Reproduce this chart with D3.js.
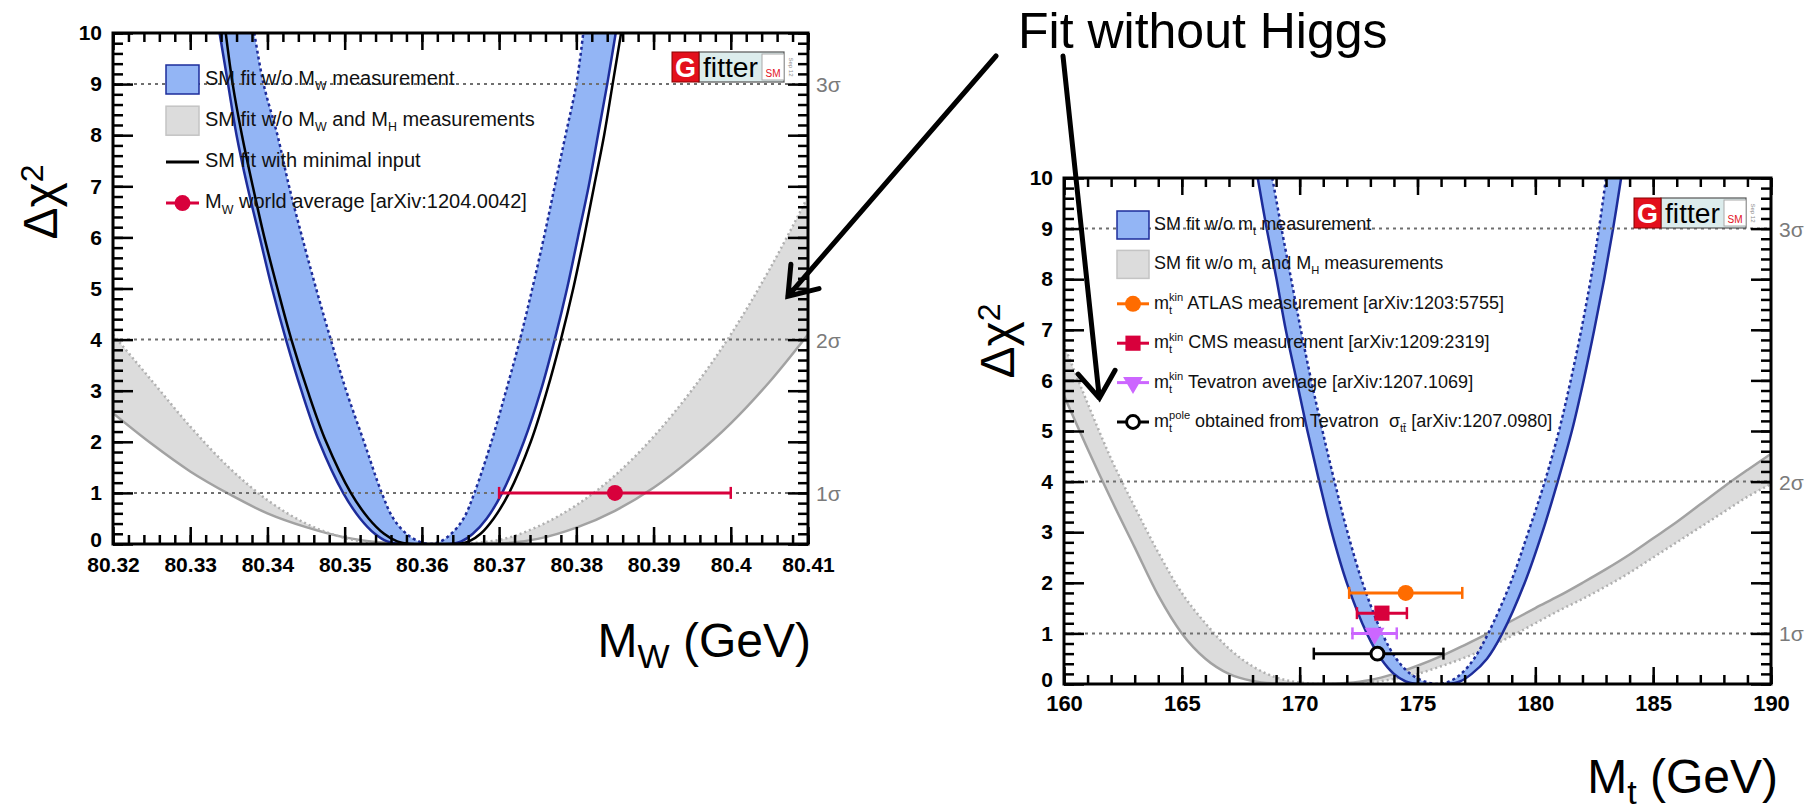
<!DOCTYPE html>
<html>
<head>
<meta charset="utf-8">
<title>Fit without Higgs</title>
<script src="https://cdn.jsdelivr.net/npm/d3@7.9.0/dist/d3.min.js"></script>
<style>
  html, body { margin: 0; padding: 0; background: #fff; }
  svg { display: block; font-family: "Liberation Sans", Arial, Helvetica, sans-serif; }
  text { white-space: pre; }
</style>
</head>
<body>
<svg id="chart" width="1808" height="810"></svg>
<script>
// ---------- values ----------
const dchi2Ticks = [0, 1, 2, 3, 4, 5, 6, 7, 8, 9, 10];
const sigmaLevels = [1, 4, 9];
const sigmaLabels = ["1σ", "2σ", "3σ"];

// left panel: M_W scan, points are [M_W (GeV), delta chi2]
const mwTicks = [80.32, 80.33, 80.34, 80.35, 80.36, 80.37, 80.38, 80.39, 80.40, 80.41];
const mwTickLabels = ["80.32", "80.33", "80.34", "80.35", "80.36", "80.37", "80.38", "80.39", "80.4", "80.41"];

const mwBlueOuter = [[80.3338,10],[80.3349,9],[80.3360,8],[80.3374,7],[80.3390,6],[80.3406,5],[80.3424,4],[80.3444,3],[80.3467,2],[80.3498,1],[80.3520,0.5],[80.3539,0.2],[80.3555,0.05],[80.3572,0],
  [80.3636,0],[80.3651,0.05],[80.3666,0.2],[80.3684,0.5],[80.3704,1],[80.3732,2],[80.3754,3],[80.3772,4],[80.3788,5],[80.3802,6],[80.3816,7],[80.3828,8],[80.3840,9],[80.3851,10]];
const mwBlueInner = [[80.3383,10],[80.3395,9],[80.3413,8],[80.3428,7],[80.3445,6],[80.3463,5],[80.3482,4],[80.3502,3],[80.3525,2],[80.3548,1],[80.3563,0.5],[80.3580,0.2],[80.3596,0.05],[80.3610,0],
  [80.3624,0.05],[80.3638,0.2],[80.3654,0.5],[80.3668,1],[80.3690,2],[80.3709,3],[80.3727,4],[80.3743,5],[80.3758,6],[80.3772,7],[80.3786,8],[80.3800,9],[80.3809,10]];
const mwMinimal = [[80.3346,10],[80.3355,9],[80.3367,8],[80.3381,7],[80.3396,6],[80.3413,5],[80.3431,4],[80.3452,3],[80.3476,2],[80.3508,1],[80.3531,0.5],[80.3551,0.2],[80.3568,0.05],[80.3585,0],
  [80.3646,0],[80.3661,0.05],[80.3676,0.2],[80.3693,0.5],[80.3713,1],[80.3741,2],[80.3762,3],[80.3780,4],[80.3796,5],[80.3810,6],[80.3823,7],[80.3836,8],[80.3847,9],[80.3858,10]];

const mwGrid = [80.320,80.325,80.330,80.335,80.340,80.345,80.350,80.355,80.360,80.365,80.370,80.375,80.380,80.385,80.390,80.395,80.400,80.405,80.410];
const mwGraySolid  = [2.56,1.96,1.42,0.98,0.60,0.33,0.13,0.03,0,0,0.01,0.10,0.32,0.65,1.10,1.68,2.36,3.17,4.10];
const mwGrayDotted = [4.10,3.20,2.30,1.50,0.86,0.40,0.12,0.01,0,0.01,0.08,0.34,0.76,1.34,2.10,3.02,4.10,5.37,6.80];

const mwAvg = 80.385, mwAvgErr = 0.015, mwAvgY = 1;

// right panel: m_t scan, points are [m_t (GeV), delta chi2]
const mtTicks = [160, 165, 170, 175, 180, 185, 190];

const mtBlueOuter = [[168.22,10],[168.6,9],[169.02,8],[169.41,7],[169.87,6],[170.33,5],[170.83,4],[171.36,3],[172.0,2],[172.85,1],[173.45,0.5],[174.0,0.2],[174.5,0.05],[175.0,0],
  [176.3,0],[176.8,0.05],[177.3,0.2],[177.95,0.5],[178.6,1],[179.55,2],[180.3,3],[180.95,4],[181.55,5],[182.05,6],[182.5,7],[182.92,8],[183.3,9],[183.64,10]];
const mtBlueInner = [[168.84,10],[169.23,9],[169.64,8],[170.05,7],[170.49,6],[170.97,5],[171.48,4],[172.03,3],[172.67,2],[173.5,1],[174.1,0.5],[174.7,0.2],[175.3,0.05],[175.85,0],
  [176.35,0.05],[176.85,0.2],[177.4,0.5],[178.0,1],[178.95,2],[179.7,3],[180.4,4],[181.0,5],[181.5,6],[181.95,7],[182.35,8],[182.7,9],[183.0,10]];

const mtGrid = [160,161,162,163,164,165,166,167,168,169,170,171,172,173,174,175,176,177,178,179,180,181,182,183,184,185,186,187,188,189,190];
const mtGraySolid  = [5.7,4.65,3.65,2.7,1.75,1.0,0.5,0.2,0.06,0.01,0,0,0.02,0.08,0.2,0.36,0.55,0.77,1.0,1.25,1.5,1.74,2.0,2.27,2.56,2.88,3.2,3.55,3.9,4.23,4.55];
const mtGrayDotted = [6.7,5.55,4.45,3.5,2.6,1.8,1.2,0.7,0.35,0.13,0.03,0,0,0.03,0.1,0.2,0.35,0.52,0.72,0.95,1.2,1.45,1.68,1.93,2.2,2.5,2.8,3.1,3.4,3.7,3.95];

const mtNames   = ["ATLAS", "CMS", "Tevatron", "pole"];
const mtCentral = [174.5, 173.49, 173.18, 173.3];
const mtLow     = [172.1, 172.43, 172.24, 170.6];
const mtHigh    = [176.9, 174.55, 174.12, 176.1];
const mtY       = [1.8, 1.4, 1.0, 0.6];

// ---------- colours ----------
const blueFill = "#93b5f5", blueLine = "#1d2c9a";
const grayFill = "#dcdcdc", grayLine = "#a2a2a2";
const markColor = { ATLAS: "#ff6c00", CMS: "#d8003c", Tevatron: "#cc66ff", pole: "#000" };

const svg = d3.select("#chart");
const defs = svg.append("defs");

// frame boxes of the two panels
const leftBox = { x0: 113, x1: 808, y0: 33, y1: 544 };
const rightBox = { x0: 1064, x1: 1771, y0: 178, y1: 684 };

const xW = d3.scaleLinear().domain([80.32, 80.41]).range([leftBox.x0, leftBox.x1]);
const yW = d3.scaleLinear().domain([0, 10]).range([leftBox.y1, leftBox.y0]);
const xT = d3.scaleLinear().domain([160, 190]).range([rightBox.x0, rightBox.x1]);
const yT = d3.scaleLinear().domain([0, 10]).range([rightBox.y1, rightBox.y0]);

function clipFor(id, box) {
  defs.append("clipPath").attr("id", id).append("rect")
    .attr("x", box.x0).attr("y", box.y0)
    .attr("width", box.x1 - box.x0).attr("height", box.y1 - box.y0);
  return svg.append("g").attr("clip-path", `url(#${id})`);
}

function curveLine(x, y) {
  return d3.line().x(d => x(d[0])).y(d => y(d[1])).curve(d3.curveCatmullRom.alpha(0.5));
}

// U shaped band between an outer and an inner curve
function drawBand(g, x, y, outer, inner) {
  const line = curveLine(x, y);
  const back = line(inner.slice().reverse()).replace(/^M/, "L");
  g.append("path").attr("d", line(outer) + back + "Z").attr("fill", blueFill);
  g.append("path").attr("d", line(outer)).attr("fill", "none")
    .attr("stroke", blueLine).attr("stroke-width", 2.5);
  g.append("path").attr("d", line(inner)).attr("fill", "none")
    .attr("stroke", blueLine).attr("stroke-width", 2.5).attr("stroke-dasharray", "3,3");
}

function drawGrayBand(g, x, y, grid, solid, dotted) {
  const pts = grid.map((v, i) => ({ x: v, lo: solid[i], hi: dotted[i] }));
  g.append("path")
    .attr("d", d3.area().x(d => x(d.x)).y0(d => y(d.lo)).y1(d => y(d.hi)).curve(d3.curveMonotoneX)(pts))
    .attr("fill", grayFill);
  g.append("path")
    .attr("d", d3.line().x(d => x(d.x)).y(d => y(d.lo)).curve(d3.curveMonotoneX)(pts))
    .attr("fill", "none").attr("stroke", grayLine).attr("stroke-width", 2.5);
  g.append("path")
    .attr("d", d3.line().x(d => x(d.x)).y(d => y(d.hi)).curve(d3.curveMonotoneX)(pts))
    .attr("fill", "none").attr("stroke", "#b0b0b0").attr("stroke-width", 2.5).attr("stroke-dasharray", "2,3");
}

function drawSigmaLines(g, x, y, box) {
  sigmaLevels.forEach((lv, i) => {
    g.append("line")
      .attr("x1", box.x0).attr("x2", box.x1).attr("y1", y(lv)).attr("y2", y(lv))
      .attr("stroke", "#6f6f6f").attr("stroke-width", 2).attr("stroke-dasharray", "3,4");
    svg.append("text")
      .attr("x", box.x1 + 8).attr("y", y(lv) + 8)
      .attr("font-size", 21).attr("fill", "#7a7a7a")
      .text(sigmaLabels[i]);
  });
}

function errorPoint(g, cx, cy, lo, hi, color, shape, size) {
  const cap = 6;
  g.append("line").attr("x1", lo).attr("x2", hi).attr("y1", cy).attr("y2", cy)
    .attr("stroke", color).attr("stroke-width", 3);
  [lo, hi].forEach(v => g.append("line").attr("x1", v).attr("x2", v)
    .attr("y1", cy - cap).attr("y2", cy + cap).attr("stroke", color).attr("stroke-width", 2.5));
  const sym = { circle: d3.symbolCircle, square: d3.symbolSquare, tri: d3.symbolTriangle }[shape === "open" ? "circle" : shape];
  const p = g.append("path").attr("d", d3.symbol(sym, size)())
    .attr("transform", `translate(${cx},${cy})` + (shape === "tri" ? " rotate(180)" : ""));
  if (shape === "open") p.attr("fill", "#fff").attr("stroke", color).attr("stroke-width", 3);
  else p.attr("fill", color);
}

function drawAxes(x, y, box, major, minor, labels, fontX) {
  const g = svg.append("g").attr("font-weight", "bold");
  const style = s => s.call(a => a.select(".domain").remove())
    .call(a => a.selectAll("line").attr("stroke", "#000").attr("stroke-width", 2.5))
    .call(a => a.selectAll("text").attr("fill", "#000").attr("font-family", null));

  g.append("g").attr("transform", `translate(0,${box.y1})`)
    .call(d3.axisBottom(x).tickValues(major).tickSize(-17).tickPadding(box === leftBox ? 13 : 11)
      .tickFormat((d, i) => labels[i]))
    .call(style).selectAll("text").attr("font-size", fontX);
  g.append("g").attr("transform", `translate(0,${box.y1})`)
    .call(d3.axisBottom(x).tickValues(minor).tickSize(-9).tickFormat("")).call(style);
  g.append("g").attr("transform", `translate(0,${box.y0})`)
    .call(d3.axisTop(x).tickValues(major).tickSize(-17).tickFormat("")).call(style);
  g.append("g").attr("transform", `translate(0,${box.y0})`)
    .call(d3.axisTop(x).tickValues(minor).tickSize(-9).tickFormat("")).call(style);

  const yMinor = d3.range(0, 51).map(i => i * 0.2);
  const yLab = g.append("g").attr("transform", `translate(${box.x0},0)`)
    .call(d3.axisLeft(y).tickValues(dchi2Ticks).tickSize(-20).tickPadding(11).tickFormat(d3.format("d")))
    .call(style);
  yLab.selectAll("text").attr("font-size", 21);
  // the "0" sits a little higher, clear of the x labels
  yLab.selectAll(".tick text").filter(d => d === 0).attr("y", -4);
  g.append("g").attr("transform", `translate(${box.x0},0)`)
    .call(d3.axisLeft(y).tickValues(yMinor).tickSize(-10).tickFormat("")).call(style);
  g.append("g").attr("transform", `translate(${box.x1},0)`)
    .call(d3.axisRight(y).tickValues(dchi2Ticks).tickSize(-20).tickFormat("")).call(style);
  g.append("g").attr("transform", `translate(${box.x1},0)`)
    .call(d3.axisRight(y).tickValues(yMinor).tickSize(-10).tickFormat("")).call(style);

  svg.append("rect").attr("x", box.x0).attr("y", box.y0)
    .attr("width", box.x1 - box.x0).attr("height", box.y1 - box.y0)
    .attr("fill", "none").attr("stroke", "#000").attr("stroke-width", 3);
}

// text with stacked sub/superscripts: parts = [{t, sub, sup}]
function richText(g, x, y, parts, size) {
  let cx = x;
  parts.forEach(p => {
    const base = g.append("text").attr("x", cx).attr("y", y).attr("font-size", size).text(p.t);
    cx += base.node().getComputedTextLength();
    let w = 0;
    if (p.sup) {
      const s = g.append("text").attr("x", cx).attr("y", y - size * 0.42).attr("font-size", size * 0.62).text(p.sup);
      w = Math.max(w, s.node().getComputedTextLength());
    }
    if (p.sub) {
      const s = g.append("text").attr("x", cx).attr("y", y + size * 0.28).attr("font-size", size * 0.62).text(p.sub);
      w = Math.max(w, s.node().getComputedTextLength());
    }
    cx += w;
  });
}

function drawLogo(right, top) {
  const h = 30, wG = 27, wF = 63, wS = 22;
  const logo = svg.append("g").attr("transform", `translate(${right - (wG + wF + wS + 9)},${top})`);
  logo.append("rect").attr("x", wG).attr("width", wF + wS).attr("height", h)
    .attr("fill", "#dcecec").attr("stroke", "#555").attr("stroke-width", 1.2);
  logo.append("rect").attr("x", wG + wF).attr("y", 2).attr("width", wS).attr("height", h - 4)
    .attr("fill", "#fff").attr("stroke", "#aaa").attr("stroke-width", 1);
  logo.append("rect").attr("width", wG).attr("height", h)
    .attr("fill", "#e3101c").attr("stroke", "#800").attr("stroke-width", 1);
  logo.append("text").attr("x", wG / 2).attr("y", h - 5).attr("text-anchor", "middle")
    .attr("font-size", 27).attr("font-weight", "bold").attr("fill", "#fff").text("G");
  logo.append("text").attr("x", wG + 4).attr("y", h - 5).attr("font-size", 27)
    .attr("textLength", wF - 8).attr("lengthAdjust", "spacingAndGlyphs").text("fitter");
  logo.append("text").attr("x", wG + wF + wS / 2).attr("y", h - 5).attr("text-anchor", "middle")
    .attr("font-size", 10).attr("fill", "#e3101c").text("SM");
  logo.append("text").attr("transform", `translate(${wG + wF + wS + 5},${h / 2}) rotate(90)`)
    .attr("text-anchor", "middle").attr("font-size", 6).attr("fill", "#888").text("Sep 12");
}

function yTitle(x, y) {
  const t = svg.append("text").attr("transform", `translate(${x},${y}) rotate(-90)`)
    .attr("text-anchor", "middle").attr("font-size", 48);
  t.append("tspan").text("Δχ");
  t.append("tspan").attr("dy", "-0.45em").attr("font-size", 32).text("2");
}

function xTitle(x, y, sub) {
  const t = svg.append("text").attr("x", x).attr("y", y).attr("text-anchor", "end").attr("font-size", 48);
  t.append("tspan").text("M");
  t.append("tspan").attr("dy", 11).attr("font-size", 34).text(sub);
  t.append("tspan").attr("dy", -11).text(" (GeV)");
}

// ---------- left panel: M_W ----------
const gl = clipFor("clipL", leftBox);
drawGrayBand(gl, xW, yW, mwGrid, mwGraySolid, mwGrayDotted);
drawBand(gl, xW, yW, mwBlueOuter, mwBlueInner);
drawSigmaLines(gl, xW, yW, leftBox);
gl.append("path").attr("d", curveLine(xW, yW)(mwMinimal))
  .attr("fill", "none").attr("stroke", "#000").attr("stroke-width", 2.5);
errorPoint(gl, xW(mwAvg), yW(mwAvgY), xW(mwAvg - mwAvgErr), xW(mwAvg + mwAvgErr), "#d8003c", "circle", 200);

const mwMinor = d3.range(0, 46).map(i => 80.32 + i * 0.002);
drawAxes(xW, yW, leftBox, mwTicks, mwMinor, mwTickLabels, 21);

// legend
const legL = svg.append("g").attr("fill", "#111");
const legLy = i => 79.5 + i * 41.2;
legL.append("rect").attr("x", 166).attr("y", legLy(0) - 14.5).attr("width", 33).attr("height", 29)
  .attr("fill", blueFill).attr("stroke", blueLine).attr("stroke-width", 1.5);
legL.append("rect").attr("x", 166).attr("y", legLy(1) - 14.5).attr("width", 33).attr("height", 29)
  .attr("fill", grayFill).attr("stroke", "#c4c4c4").attr("stroke-width", 1.5);
legL.append("line").attr("x1", 166).attr("x2", 199).attr("y1", legLy(2)).attr("y2", legLy(2))
  .attr("stroke", "#000").attr("stroke-width", 3);
errorPoint(legL, 182.5, legLy(3), 166, 199, "#d8003c", "circle", 200);
legL.selectAll("line").filter(function () { return this.getAttribute("x1") === this.getAttribute("x2"); }).remove();
richText(legL, 205, legLy(0) + 5, [{ t: "SM fit w/o M", sub: "W" }, { t: " measurement" }], 20);
richText(legL, 205, legLy(1) + 5, [{ t: "SM fit w/o M", sub: "W" }, { t: " and M", sub: "H" }, { t: " measurements" }], 20);
richText(legL, 205, legLy(2) + 5, [{ t: "SM fit with minimal input" }], 20);
richText(legL, 205, legLy(3) + 5, [{ t: "M", sub: "W" }, { t: " world average [arXiv:1204.0042]" }], 20);

drawLogo(leftBox.x1 - 15, leftBox.y0 + 19);
yTitle(57, 202);
xTitle(811, 657, "W");

// ---------- right panel: m_t ----------
const gr = clipFor("clipR", rightBox);
drawGrayBand(gr, xT, yT, mtGrid, mtGraySolid, mtGrayDotted);
drawBand(gr, xT, yT, mtBlueOuter, mtBlueInner);
drawSigmaLines(gr, xT, yT, rightBox);
const shapes = { ATLAS: "circle", CMS: "square", Tevatron: "tri", pole: "open" };
const sizes = { ATLAS: 200, CMS: 230, Tevatron: 170, pole: 130 };
mtNames.forEach((n, i) => {
  errorPoint(gr, xT(mtCentral[i]), yT(mtY[i]), xT(mtLow[i]), xT(mtHigh[i]), markColor[n], shapes[n], sizes[n]);
});

const mtMinor = d3.range(160, 191, 1);
drawAxes(xT, yT, rightBox, mtTicks, mtMinor, mtTicks.map(String), 22);

const legR = svg.append("g").attr("fill", "#111");
const legRy = i => 225 + i * 39.4;
legR.append("rect").attr("x", 1117).attr("y", legRy(0) - 14).attr("width", 32).attr("height", 28)
  .attr("fill", blueFill).attr("stroke", blueLine).attr("stroke-width", 1.5);
legR.append("rect").attr("x", 1117).attr("y", legRy(1) - 14).attr("width", 32).attr("height", 28)
  .attr("fill", grayFill).attr("stroke", "#c4c4c4").attr("stroke-width", 1.5);
mtNames.forEach((n, i) => {
  const lg = legR.append("g");
  errorPoint(lg, 1133, legRy(i + 2), 1117, 1149, markColor[n], shapes[n], sizes[n]);
  lg.selectAll("line").filter(function () { return this.getAttribute("x1") === this.getAttribute("x2"); }).remove();
});
richText(legR, 1154, legRy(0) + 5, [{ t: "SM fit w/o m", sub: "t" }, { t: " measurement" }], 18);
richText(legR, 1154, legRy(1) + 5, [{ t: "SM fit w/o m", sub: "t" }, { t: " and M", sub: "H" }, { t: " measurements" }], 18);
richText(legR, 1154, legRy(2) + 5, [{ t: "m", sub: "t", sup: "kin" }, { t: " ATLAS measurement [arXiv:1203:5755]" }], 18);
richText(legR, 1154, legRy(3) + 5, [{ t: "m", sub: "t", sup: "kin" }, { t: " CMS measurement [arXiv:1209:2319]" }], 18);
richText(legR, 1154, legRy(4) + 5, [{ t: "m", sub: "t", sup: "kin" }, { t: " Tevatron average [arXiv:1207.1069]" }], 18);
richText(legR, 1154, legRy(5) + 5, [{ t: "m", sub: "t", sup: "pole" }, { t: " obtained from Tevatron  σ", sub: "tt̄" }, { t: " [arXiv:1207.0980]" }], 18);

drawLogo(rightBox.x1 - 16, rightBox.y0 + 20);
yTitle(1014, 341);
xTitle(1778, 793, "t");

// ---------- annotation ----------
svg.append("text").attr("x", 1018).attr("y", 48).attr("font-size", 50).text("Fit without Higgs");

function arrow(x1, y1, x2, y2) {
  const a = Math.atan2(y1 - y2, x1 - x2);
  const len = 32, spread = 0.62;
  const p = d3.path();
  p.moveTo(x1, y1); p.lineTo(x2, y2);
  p.moveTo(x2 + len * Math.cos(a - spread), y2 + len * Math.sin(a - spread));
  p.lineTo(x2, y2);
  p.lineTo(x2 + len * Math.cos(a + spread), y2 + len * Math.sin(a + spread));
  svg.append("path").attr("d", p.toString()).attr("fill", "none")
    .attr("stroke", "#000").attr("stroke-width", 5).attr("stroke-linecap", "round");
}
arrow(996, 56, xW(80.4074), yW(4.85));
arrow(1063, 56, xT(161.5), yT(5.65));
</script>
</body>
</html>
